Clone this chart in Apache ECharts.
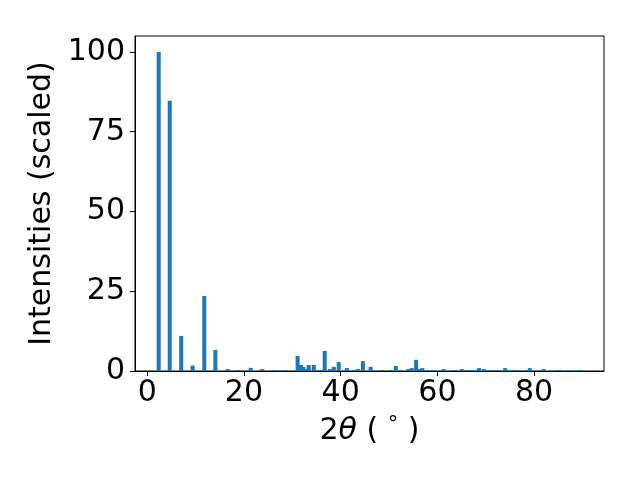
<!DOCTYPE html>
<html><head><meta charset="utf-8">
<script src="https://cdn.jsdelivr.net/npm/echarts@6/dist/echarts.min.js"></script>
<style>html,body{margin:0;padding:0;background:#fff}#c{width:640px;height:480px}</style>
</head><body><div id="c"></div>
<script>
const positions = [2.38,4.66,7.03,9.4,11.8,14.1,16.66,18.9,21.4,23.8,26.2,28.7,31.1,31.8,32.3,32.9,33.4,34.45,35.3,36.0,36.7,37.8,38.6,39.6,41.3,42.8,43.6,44.6,46.2,48.6,50.4,51.4,52.5,54.0,54.7,55.6,56.2,56.9,57.7,59.1,60.3,61.3,63.6,65.1,66.0,66.9,67.8,68.6,69.6,70.6,71.5,72.6,74.0,75.0,75.8,76.5,78.3,79.1,81.2,82.0,83.4,84.8,85.6,87.2,88.0,89.5];
const intensities = [100,84.7,11.0,1.7,23.5,6.6,0.6,0.3,1.0,0.6,0.3,0.3,4.7,1.9,1.3,0.6,1.9,1.9,0.3,0.3,6.3,0.6,1.3,2.8,0.9,0.3,0.6,3.1,1.3,0.3,0.3,1.6,0.3,0.6,0.9,3.5,0.6,0.9,0.3,0.3,0.3,0.6,0.3,0.6,0.3,0.3,0.3,0.9,0.6,0.3,0.3,0.3,0.9,0.3,0.3,0.3,0.3,0.9,0.3,0.6,0.3,0.3,0.3,0.3,0.3,0.3];
const xTicks = [0,20,40,60,80];
const yTicks = [0,25,50,75,100];

const chart = echarts.init(document.getElementById('c'), null, {renderer:'canvas'});
const font = 'DejaVu Sans';
const fs = 30;
chart.setOption({
  animation:false,
  grid:{left:135,right:36,top:36,bottom:109,show:true,borderColor:'#000',borderWidth:1,backgroundColor:'transparent'},
  xAxis:{
    type:'value', min:-2.52, max:94.45,
    name:'{a|2}{b|θ}{a| ( }{c|°}{a| )}', nameLocation:'middle', nameGap:44,
    nameTextStyle:{rich:{
      a:{fontFamily:font,fontSize:fs,color:'#000'},
      b:{fontFamily:font,fontSize:fs,fontStyle:'italic',color:'#000'},
      c:{fontFamily:font,fontSize:21,color:'#000',verticalAlign:'top',padding:[0,0,11,0]}
    }},
    axisLine:{show:true,onZero:false,lineStyle:{color:'#000',width:1}},
    axisTick:{show:true,length:5,customValues:xTicks,lineStyle:{color:'#000',width:1}},
    axisLabel:{customValues:xTicks,color:'#000',fontFamily:font,fontSize:fs,margin:7},
    splitLine:{show:false}
  },
  yAxis:{
    type:'value', min:0, max:105,
    name:'Intensities (scaled)', nameLocation:'middle', nameGap:72,
    nameTextStyle:{fontFamily:font,fontSize:fs,color:'#000'},
    axisLine:{show:true,onZero:false,lineStyle:{color:'#000',width:1}},
    axisTick:{show:true,length:5,customValues:yTicks,lineStyle:{color:'#000',width:1}},
    axisLabel:{customValues:yTicks,color:'#000',fontFamily:font,fontSize:fs,margin:10},
    splitLine:{show:false}
  },
  series:[{
    type:'bar',
    data: positions.map((p,i)=>[p,intensities[i]]),
    barWidth:4,
    itemStyle:{color:'#1f77b4'},
    silent:true
  }]
});
</script></body></html>
